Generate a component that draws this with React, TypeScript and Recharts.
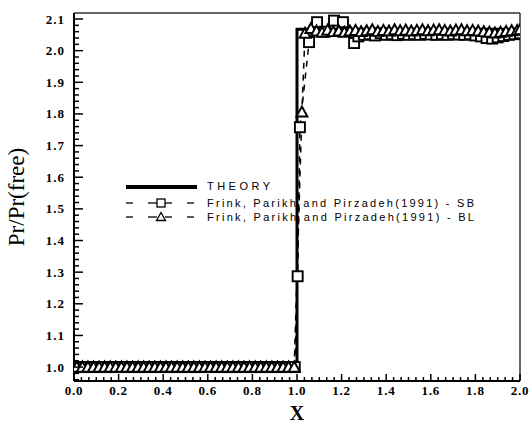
import React from 'react';
import { ComposedChart, Line, XAxis, YAxis, ReferenceLine } from 'recharts';

// step profile of the pressure ratio
const theoryX = [0, 1, 1, 2];
const theoryY = [1.0, 1.0, 2.068, 2.068];

// Frink, Parikh and Pirzadeh (1991) - SB
const sbX = [
  0.025, 0.05, 0.075, 0.1, 0.125, 0.15, 0.175, 0.2, 0.225, 0.25, 0.275, 0.3, 0.325,
  0.35, 0.375, 0.4, 0.425, 0.45, 0.475, 0.5, 0.525, 0.55, 0.575, 0.6, 0.625, 0.65,
  0.675, 0.7, 0.725, 0.75, 0.775, 0.8, 0.825, 0.85, 0.875, 0.9, 0.925, 0.95, 0.975,
  0.99, 1.003, 1.013, 1.054, 1.09, 1.125, 1.166, 1.206, 1.256, 1.275, 1.3, 1.325,
  1.35, 1.375, 1.4, 1.425, 1.45, 1.475, 1.5, 1.525, 1.55, 1.575, 1.6, 1.625, 1.65,
  1.675, 1.7, 1.725, 1.75, 1.775, 1.8, 1.825, 1.85, 1.875, 1.9, 1.925, 1.95, 1.975, 2.0,
];
const sbY = [
  1.0, 1.0, 1.0, 1.0, 1.0, 1.0, 1.0, 1.0, 1.0, 1.0, 1.0, 1.0, 1.0,
  1.0, 1.0, 1.0, 1.0, 1.0, 1.0, 1.0, 1.0, 1.0, 1.0, 1.0, 1.0, 1.0,
  1.0, 1.0, 1.0, 1.0, 1.0, 1.0, 1.0, 1.0, 1.0, 1.0, 1.0, 1.0, 1.0,
  1.0, 1.287, 1.758, 2.027, 2.09, 2.06, 2.095, 2.09, 2.024, 2.045, 2.05, 2.052,
  2.048, 2.055, 2.05, 2.052, 2.049, 2.053, 2.05, 2.052, 2.05, 2.053, 2.051, 2.05, 2.052,
  2.05, 2.052, 2.051, 2.05, 2.052, 2.048, 2.045, 2.04, 2.038, 2.042, 2.046, 2.05, 2.052, 2.055,
];

// Frink, Parikh and Pirzadeh (1991) - BL
const blX = [
  0.0125, 0.0375, 0.0625, 0.0875, 0.1125, 0.1375, 0.1625, 0.1875, 0.2125, 0.2375,
  0.2625, 0.2875, 0.3125, 0.3375, 0.3625, 0.3875, 0.4125, 0.4375, 0.4625, 0.4875,
  0.5125, 0.5375, 0.5625, 0.5875, 0.6125, 0.6375, 0.6625, 0.6875, 0.7125, 0.7375,
  0.7625, 0.7875, 0.8125, 0.8375, 0.8625, 0.8875, 0.9125, 0.9375, 0.9625, 0.9875,
  1.022, 1.036, 1.0625, 1.0875, 1.1125, 1.1375, 1.1625, 1.1875, 1.2125, 1.2375,
  1.2625, 1.2875, 1.3125, 1.3375, 1.3625, 1.3875, 1.4125, 1.4375, 1.4625, 1.4875,
  1.5125, 1.5375, 1.5625, 1.5875, 1.6125, 1.6375, 1.6625, 1.6875, 1.7125, 1.7375,
  1.7625, 1.7875, 1.8125, 1.8375, 1.8625, 1.8875, 1.9125, 1.9375, 1.9625, 1.9875, 2.0,
];
const blY = [
  1.0, 1.0, 1.0, 1.0, 1.0, 1.0, 1.0, 1.0, 1.0, 1.0,
  1.0, 1.0, 1.0, 1.0, 1.0, 1.0, 1.0, 1.0, 1.0, 1.0,
  1.0, 1.0, 1.0, 1.0, 1.0, 1.0, 1.0, 1.0, 1.0, 1.0,
  1.0, 1.0, 1.0, 1.0, 1.0, 1.0, 1.0, 1.0, 1.0, 1.0,
  1.806, 2.055, 2.07, 2.062, 2.058, 2.065, 2.06, 2.062, 2.058, 2.062,
  2.064, 2.06, 2.063, 2.066, 2.061, 2.064, 2.062, 2.066, 2.063, 2.065,
  2.062, 2.064, 2.066, 2.063, 2.065, 2.066, 2.064, 2.062, 2.065, 2.066,
  2.063, 2.064, 2.062, 2.06, 2.058, 2.056, 2.058, 2.061, 2.063, 2.064, 2.066,
];

const xTickLabels = ['0.0', '0.2', '0.4', '0.6', '0.8', '1.0', '1.2', '1.4', '1.6', '1.8', '2.0'];
const yTickLabels = ['1.0', '1.1', '1.2', '1.3', '1.4', '1.5', '1.6', '1.7', '1.8', '1.9', '2.0', '2.1'];

const X_DOMAIN: [number, number] = [0, 2];
const Y_DOMAIN: [number, number] = [0.956, 2.119];

// minor ticks: six steps per 0.2 on x, five steps per 0.1 on y
const xTicks: number[] = [];
for (let i = 0; i <= 60; i++) xTicks.push(Math.round((i / 30) * 10000) / 10000);
const yTicks: number[] = [];
for (let i = 0; i <= 57; i++) yTicks.push(Math.round((0.96 + i * 0.02) * 1000) / 1000);

const toPoints = (xs: number[], ys: number[]) => xs.map((x, i) => ({ x, y: ys[i] }));
const theory = toPoints(theoryX, theoryY);
const sb = toPoints(sbX, sbY);
const bl = toPoints(blX, blY);

const SERIF = '"Liberation Serif", "Times New Roman", serif';
const SANS = '"Liberation Sans", Arial, sans-serif';

const findLabel = (labels: string[], v: number) =>
  labels.find((l) => Math.abs(Number(l) - v) < 1e-4);

function XTick(props: any) {
  const { x, y, payload } = props;
  const label = findLabel(xTickLabels, payload.value);
  return (
    <g>
      <line x1={x} x2={x} y1={y} y2={y - (label ? 7 : 4)} stroke="#000" strokeWidth={1.5} />
      {label && (
        <text x={x} y={y + 14} textAnchor="middle" fontFamily={SERIF} fontWeight="bold" fontSize={13} letterSpacing={0.8} fill="#000">
          {label}
        </text>
      )}
    </g>
  );
}

function YTick(props: any) {
  const { x, y, payload } = props;
  const label = findLabel(yTickLabels, payload.value);
  return (
    <g>
      <line x1={x} x2={x + (label ? 9 : 5)} y1={y} y2={y} stroke="#000" strokeWidth={1.5} />
      {label && (
        <text x={x - 9} y={y + 4.5} textAnchor="end" fontFamily={SERIF} fontWeight="bold" fontSize={13} letterSpacing={1} fill="#000">
          {label}
        </text>
      )}
    </g>
  );
}

function SquareDot(props: any) {
  const { cx, cy } = props;
  if (cx == null || cy == null) return null;
  return <rect x={cx - 5} y={cy - 5} width={10} height={10} fill="#fff" stroke="#000" strokeWidth={1.9} />;
}

function TriangleDot(props: any) {
  const { cx, cy } = props;
  if (cx == null || cy == null) return null;
  return (
    <polygon
      points={`${cx},${cy - 5.5} ${cx - 5.5},${cy + 4.5} ${cx + 5.5},${cy + 4.5}`}
      fill="#fff"
      stroke="#000"
      strokeWidth={1.9}
    />
  );
}

function Annotations() {
  return (
    <svg width={529} height={426} style={{ position: 'absolute', left: 0, top: 0 }}>
      {/* legend */}
      <line x1={126} x2={197} y1={187} y2={187} stroke="#000" strokeWidth={4} />
      <text x={207} y={190} fontFamily={SANS} fontSize={11} textLength={63} fill="#000">THEORY</text>

      <g stroke="#000" strokeWidth={1.3}>
        <line x1={126} x2={133} y1={203} y2={203} />
        <line x1={148} x2={157} y1={203} y2={203} />
        <line x1={165} x2={172} y1={203} y2={203} />
        <line x1={187} x2={194} y1={203} y2={203} />
        <rect x={157} y={199} width={8} height={8} fill="#fff" />
      </g>
      <text x={207} y={207} fontFamily={SANS} fontSize={11} textLength={267} fill="#000">
        Frink, Parikh and Pirzadeh(1991) - SB
      </text>

      <g stroke="#000" strokeWidth={1.3}>
        <line x1={126} x2={133} y1={217} y2={217} />
        <line x1={148} x2={157} y1={217} y2={217} />
        <line x1={165} x2={172} y1={217} y2={217} />
        <line x1={187} x2={194} y1={217} y2={217} />
        <polygon points="161,212.5 156.5,220.5 165.5,220.5" fill="#fff" />
      </g>
      <text x={207} y={221} fontFamily={SANS} fontSize={11} textLength={267} fill="#000">
        Frink, Parikh and Pirzadeh(1991) - BL
      </text>

      {/* axis titles */}
      <text transform="translate(24,197) rotate(-90)" textAnchor="middle" fontFamily={SERIF} fontSize={23} fill="#000">
        Pr/Pr(free)
      </text>
      <text x={297} y={420} textAnchor="middle" fontFamily={SERIF} fontWeight="bold" fontSize={20} fill="#000">
        X
      </text>
    </svg>
  );
}

export default function App() {
  return (
    <div style={{ position: 'absolute', left: 0, top: 0, width: 529, height: 426, background: '#fff' }}>
      <Annotations />
      <div style={{ position: 'absolute', left: 0, top: 0, zIndex: 1 }}>
        <ComposedChart width={529} height={426} margin={{ top: 13, right: 9, bottom: 44, left: 73 }}>
          <XAxis
            dataKey="x"
            type="number"
            domain={X_DOMAIN}
            ticks={xTicks}
            interval={0}
            height={1}
            tickSize={0}
            tickMargin={0}
            tickLine={false}
            tick={<XTick />}
            axisLine={{ stroke: '#000', strokeWidth: 2 }}
            allowDataOverflow
          />
          <YAxis
            dataKey="y"
            type="number"
            domain={Y_DOMAIN}
            ticks={yTicks}
            interval={0}
            width={1}
            tickSize={0}
            tickMargin={0}
            tickLine={false}
            tick={<YTick />}
            axisLine={{ stroke: '#000', strokeWidth: 2 }}
            allowDataOverflow
          />
          <ReferenceLine y={Y_DOMAIN[1]} stroke="#333" strokeWidth={1.5} />
          <ReferenceLine x={X_DOMAIN[1]} stroke="#333" strokeWidth={1.5} />
          <Line
            data={sb}
            dataKey="y"
            type="linear"
            stroke="#000"
            strokeWidth={1.5}
            strokeDasharray="6 6"
            dot={(p: any) => <SquareDot key={`sb-${p.index}`} cx={p.cx} cy={p.cy} />}
            isAnimationActive={false}
          />
          <Line
            data={bl}
            dataKey="y"
            type="linear"
            stroke="#000"
            strokeWidth={1.5}
            strokeDasharray="6 6"
            dot={(p: any) => <TriangleDot key={`bl-${p.index}`} cx={p.cx} cy={p.cy} />}
            isAnimationActive={false}
          />
          <Line
            data={theory}
            dataKey="y"
            type="linear"
            stroke="#000"
            strokeWidth={3}
            dot={false}
            isAnimationActive={false}
          />
        </ComposedChart>
      </div>
    </div>
  );
}
